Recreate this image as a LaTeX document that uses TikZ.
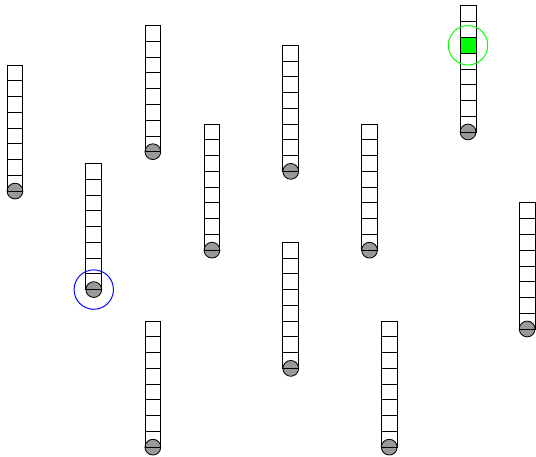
\documentclass[tikz,border=0pt]{standalone}
\usetikzlibrary{positioning}
\definecolor{ballgray}{HTML}{999999}
\definecolor{hitgreen}{HTML}{00FF00}

\begin{document}
\begin{tikzpicture}[x=0.5cm, y=-0.5cm,
  cell/.style={draw, minimum size=0.4cm, inner sep=0pt, outer sep=0pt, line width=0.6pt},
  ball/.style={draw, circle, fill=ballgray, minimum size=0.4cm, inner sep=0pt, outer sep=0pt, line width=0.6pt},
  ring/.style={draw, circle, minimum size=1cm, inner sep=0pt, line width=0.7pt}]
  \useasboundingbox (0,0) rectangle (27.21,23.15);

  % tubes: ball at the bottom, eight cells stacked above it
  \foreach \kx/\ky [count=\i] in {0/3,7/1,10/6,14/2,18/6,23/0,4/8,26/10,7/16,14/12,19/16}{
    \node[ball] (ball\i) at (0.76+\kx, 6.7+\ky) {};
    \node[cell, above=0pt of ball\i.center] (cell\i-1) {};
    \foreach \j [evaluate=\j as \p using int(\j-1)] in {2,...,8}
      \node[cell, above=0pt of cell\i-\p] (cell\i-\j) {};
  }

  % marked cell and the two rings
  \node[cell, fill=hitgreen] (hit) at (cell6-6.center) {};
  \node[ring, draw=hitgreen] (ringhit) at (hit.center) {};
  \node[ring, draw=blue] (ringball) at (ball7.center) {};
\end{tikzpicture}
\end{document}
